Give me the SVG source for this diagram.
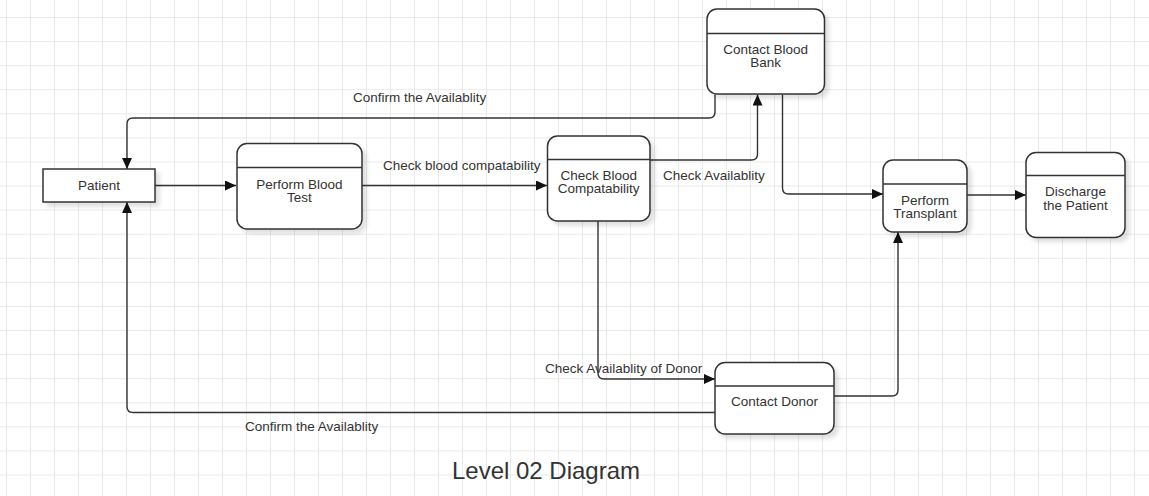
<svg xmlns="http://www.w3.org/2000/svg" width="1149" height="496" viewBox="0 0 1149 496">
<defs>
<pattern id="grid" patternUnits="userSpaceOnUse" x="6" y="17" width="24" height="24.08">
<path d="M0.5,0 V24.08 M0,0.5 H24" fill="none" stroke="#e9e9e9" stroke-width="1"/>
</pattern>
<marker id="arr" markerUnits="userSpaceOnUse" markerWidth="12" markerHeight="11" refX="11" refY="5" orient="auto">
<path d="M0,0 L11,5 L0,10 z" fill="#111"/>
</marker>
<filter id="sh" x="-10%" y="-10%" width="130%" height="140%">
<feDropShadow dx="4" dy="4" stdDeviation="2" flood-color="#000" flood-opacity="0.12"/>
</filter>
</defs>
<style>
.box{fill:#fff;stroke:#333;stroke-width:1.5;filter:url(#sh)}
.hdr{stroke:#333;stroke-width:1.5}
.t{font-family:"Liberation Sans",Arial,sans-serif;font-size:13.5px;fill:#333;text-anchor:middle}
.lbl{font-family:"Liberation Sans",Arial,sans-serif;font-size:13.5px;fill:#333}
.c{fill:none;stroke:#333;stroke-width:1.4;marker-end:url(#arr)}
.title{font-family:"Liberation Sans",Arial,sans-serif;font-size:24px;fill:#333;text-anchor:middle}
</style>
<rect width="1149" height="496" fill="#fff"/>
<rect width="1149" height="496" fill="url(#grid)"/>

<g id="connectors">
<path class="c" d="M155,185.5 H236"/>
<path class="c" d="M362,185.5 H547"/>
<path class="c" d="M650,160 H751.5 Q757.5,160 757.5,154 V94.5"/>
<path class="c" d="M715,94.5 V112 Q715,118 709,118 H133 Q127,118 127,124 V169"/>
<path class="c" d="M782.5,94.5 V188 Q782.5,194 788.5,194 H883"/>
<path class="c" d="M967,195 H1026"/>
<path class="c" d="M598,221 V373 Q598,379 604,379 H715"/>
<path class="c" d="M834,396 H892 Q898,396 898,390 V232"/>
<path class="c" d="M715,412.5 H133 Q127,412.5 127,406.5 V202"/>
<text class="lbl" x="353" y="102">Confirm the Availablity</text>
<text class="lbl" x="383" y="170">Check blood compatability</text>
<text class="lbl" x="663" y="179.5">Check Availablity</text>
<text class="lbl" x="545" y="372.5">Check Availablity of Donor</text>
<text class="lbl" x="245" y="431">Confirm the Availablity</text>
</g>

<g id="patient">
<rect class="box" x="43" y="169" width="112" height="33"/>
<text class="t" x="99" y="189.5">Patient</text>
</g>

<g id="perform-blood-test">
<rect class="box" x="237" y="143.5" width="125" height="85.5" rx="10"/>
<line class="hdr" x1="237" y1="167.5" x2="362" y2="167.5"/>
<text class="t" x="299.5" y="188.5">Perform Blood</text>
<text class="t" x="299.5" y="202">Test</text>
</g>

<g id="check-blood-compatability">
<rect class="box" x="547.5" y="136" width="102.5" height="85" rx="10"/>
<line class="hdr" x1="547.5" y1="159.5" x2="650" y2="159.5"/>
<text class="t" x="598.7" y="179.5">Check Blood</text>
<text class="t" x="598.7" y="192.5">Compatability</text>
</g>

<g id="contact-blood-bank">
<rect class="box" x="707" y="9" width="117.5" height="85" rx="10"/>
<line class="hdr" x1="707" y1="33.5" x2="824.5" y2="33.5"/>
<text class="t" x="765.7" y="54">Contact Blood</text>
<text class="t" x="765.7" y="67">Bank</text>
</g>

<g id="perform-transplant">
<rect class="box" x="883" y="160" width="84" height="72" rx="10"/>
<line class="hdr" x1="883" y1="184" x2="967" y2="184"/>
<text class="t" x="925" y="204.5">Perform</text>
<text class="t" x="925" y="217.5">Transplant</text>
</g>

<g id="discharge-the-patient">
<rect class="box" x="1026" y="152.5" width="99" height="85" rx="10"/>
<line class="hdr" x1="1026" y1="175.5" x2="1125" y2="175.5"/>
<text class="t" x="1075.5" y="196">Discharge</text>
<text class="t" x="1075.5" y="209.5">the Patient</text>
</g>

<g id="contact-donor">
<rect class="box" x="715" y="362.5" width="119" height="71.5" rx="10"/>
<line class="hdr" x1="715" y1="386" x2="834" y2="386"/>
<text class="t" x="774.5" y="406">Contact Donor</text>
</g>

<text class="title" x="546" y="479">Level 02 Diagram</text>
</svg>
